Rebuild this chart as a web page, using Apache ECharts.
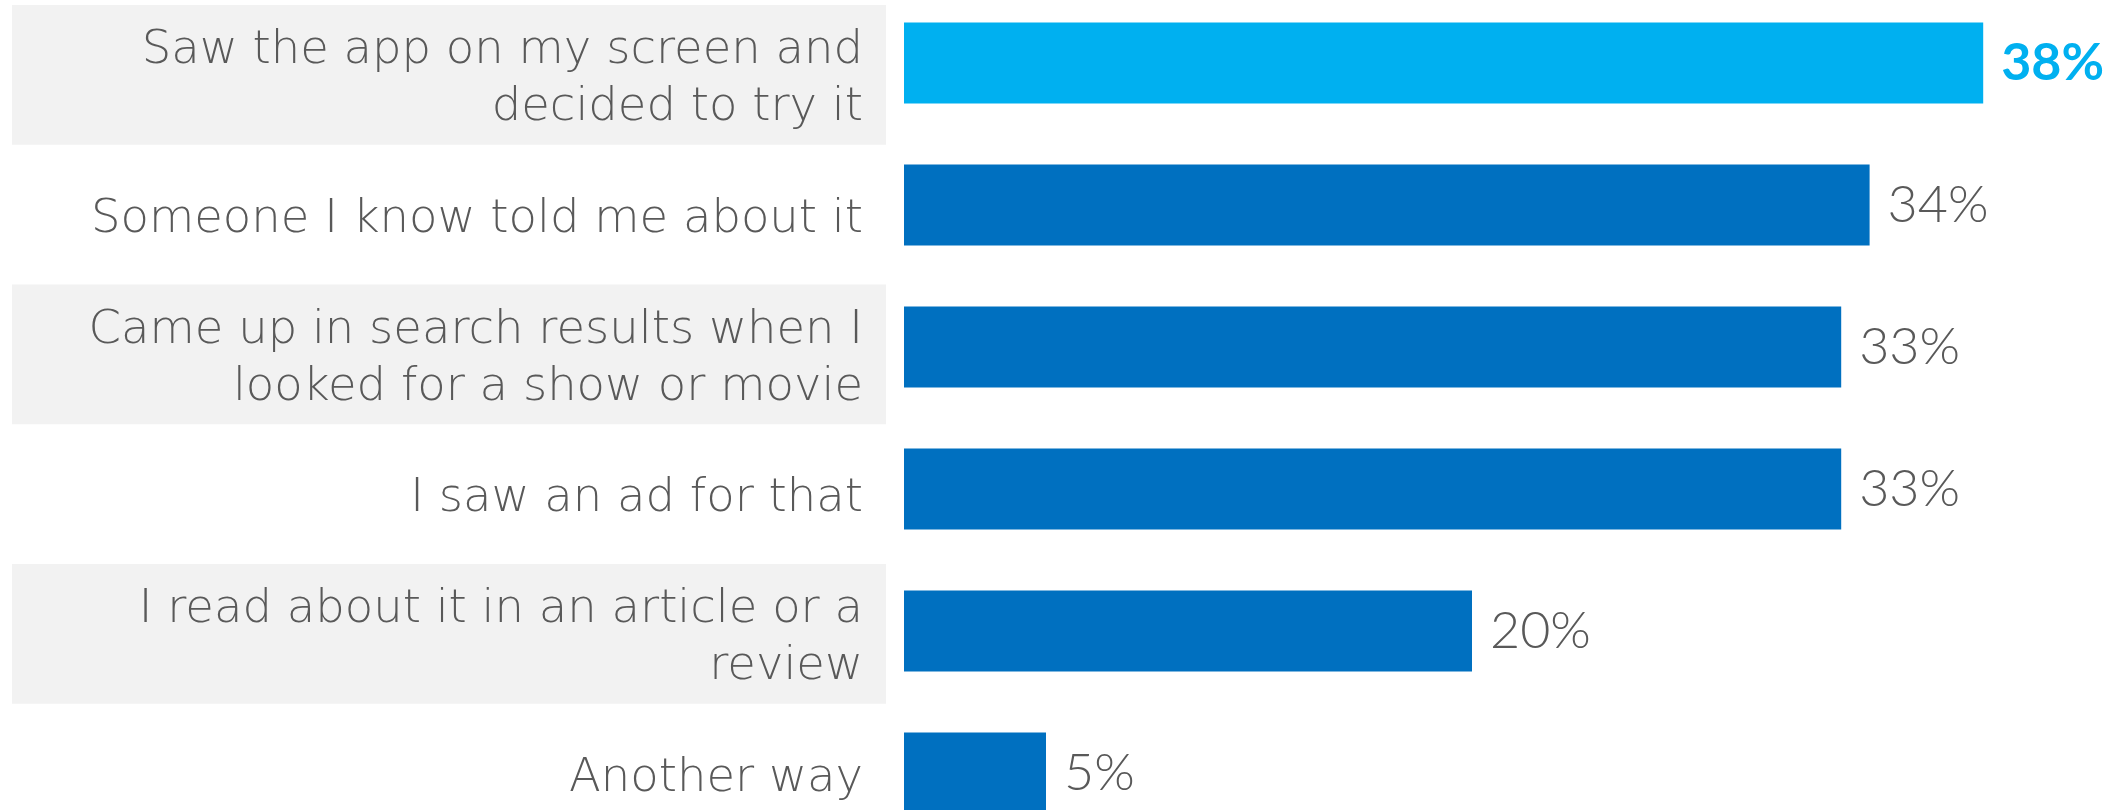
<!DOCTYPE html>
<html>
<head>
<meta charset="utf-8">
<title>How people discovered the app</title>
<script src="https://cdn.jsdelivr.net/npm/echarts@6/dist/echarts.min.js"></script>
<style>
  html, body { margin: 0; padding: 0; background: #ffffff; overflow: hidden; }
  /* canvas runs a little past the window at top and bottom: the last row is cut off */
  #chart { position: absolute; left: 0; top: -10px; width: 2121px; height: 860px; }
</style>
</head>
<body>
<div id="chart"></div>
<script>
// Answers, top to bottom
const categories = [
  'Saw the app on my screen and\ndecided to try it',
  'Someone I know told me about it',
  'Came up in search results when I\nlooked for a show or movie',
  'I saw an ad for that',
  'I read about it in an article or a\nreview',
  'Another way'
];
// Share of respondents, percent
const values = [38, 34, 33, 33, 20, 5];
// Row drawn in the accent colour
const highlightIndex = 0;

const LABEL_FONT = '"DejaVu Sans"';
const VALUE_FONT = 'Lato';
const TEXT = '#595959';
const ACCENT = '#00B0F0';
const BAR = '#0070C0';

const hiddenCategoryAxis = (gridIndex) => ({
  gridIndex, type: 'category', data: categories, inverse: true,
  axisLine: { show: false }, axisTick: { show: false }, axisLabel: { show: false },
  splitLine: { show: false }
});

const chart = echarts.init(document.getElementById('chart'), null, { renderer: 'canvas' });

chart.setOption({
  animation: false,
  backgroundColor: '#ffffff',
  grid: [
    // bars
    { left: 904, width: 1136, top: 2, height: 852 },
    // alternating shaded rows behind the answers
    { left: 12, width: 874, top: 15, height: 838.5 },
    // answer text
    { left: 12, width: 874, top: 20, height: 838.5 }
  ],
  xAxis: [
    { gridIndex: 0, type: 'value', min: 0, max: 40, show: false },
    { gridIndex: 1, type: 'value', min: 0, max: 1, show: false },
    { gridIndex: 2, type: 'value', min: 0, max: 1, show: false }
  ],
  yAxis: [
    hiddenCategoryAxis(0),
    Object.assign(hiddenCategoryAxis(1), {
      splitArea: { show: true, areaStyle: { color: ['#f2f2f2', 'rgba(255,255,255,0)'] } }
    }),
    Object.assign(hiddenCategoryAxis(2), {
      position: 'right',
      axisLabel: {
        show: true, inside: true, margin: 23, align: 'right',
        color: TEXT, fontFamily: LABEL_FONT, fontWeight: 200, fontSize: 46.5, lineHeight: 57
      }
    })
  ],
  series: [
    {
      type: 'bar',
      xAxisIndex: 0, yAxisIndex: 0,
      barWidth: 81,
      data: values.map((v, i) => ({
        value: v,
        itemStyle: { color: i === highlightIndex ? ACCENT : BAR },
        label: i === highlightIndex
          ? { color: ACCENT, fontWeight: 'bold' }
          : { color: TEXT, fontWeight: 300 }
      })),
      label: {
        show: true, position: 'right', distance: 18,
        fontFamily: VALUE_FONT, fontSize: 52,
        formatter: p => p.value + '%'
      }
    }
  ]
});
</script>
</body>
</html>
